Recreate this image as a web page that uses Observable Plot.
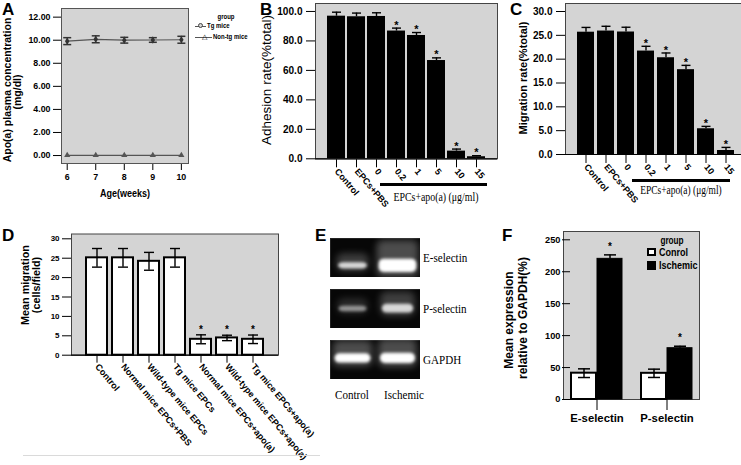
<!DOCTYPE html>
<html><head><meta charset="utf-8">
<script src="https://cdn.jsdelivr.net/npm/d3@7"></script>
<script src="https://cdn.jsdelivr.net/npm/@observablehq/plot@0.6"></script>
<style>
html,body{margin:0;padding:0;background:#fff;}
#fig{position:relative;width:741px;height:465px;overflow:hidden;background:#fff;}
.lbl{position:absolute;white-space:nowrap;line-height:1;color:#000;}
.box{position:absolute;box-sizing:border-box;}
</style></head><body><div id="fig"></div>
<script>
// ---------------- DATA ----------------
// Panel A
const ageWeeks = [6, 7, 8, 9, 10];
const tgMean = [9.92, 10.08, 10.0, 10.02, 10.04];
const tgErr = [0.3, 0.3, 0.25, 0.2, 0.3];
const nonTgMean = [0.02, 0.02, 0.02, 0.02, 0.02];
const nonTgErr = [0.05, 0.05, 0.05, 0.05, 0.05];
const aTicks = [0, 2, 4, 6, 8, 10, 12];
// Panels B and C
const treatments = ["Control", "EPCs+PBS", "0", "0.2", "1", "5", "10", "15"];
const adhesionRate = [96.8, 96.4, 96.6, 86.7, 83.7, 66.7, 5.2, 1.4];
const adhesionSem = [2.7, 2.5, 2.5, 2.0, 2.0, 1.8, 1.4, 0.7];
const migrationRate = [25.66, 25.9, 25.7, 21.7, 20.3, 17.8, 5.4, 0.84];
const migrationSem = [1.0, 1.0, 1.0, 1.0, 1.0, 0.9, 0.5, 0.65];
const bcSignificant = [false, false, false, true, true, true, true, true];
const bTicks = [0, 20, 40, 60, 80, 100];
const cTicks = [0, 5, 10, 15, 20, 25, 30];
// Panel D
const epcGroups = ["Control", "Normal mice EPCs+PBS", "Wild-type mice EPCs", "Tg mice EPCs",
  "Normal mice EPCs+apo(a)", "Wild-type mice EPCs+apo(a)", "Tg mice EPCs+apo(a)"];
const meanMigration = [25.1, 25.1, 24.2, 25.1, 4.1, 4.45, 4.1];
const meanMigrationErr = [2.4, 2.4, 2.3, 2.4, 1.15, 0.7, 1.1];
const dSignificant = [false, false, false, false, true, true, true];
const dTicks = [0, 5, 10, 15, 20, 25, 30];
// Panel E (gel bands: intensity, position from lane bottom, thickness, width)
const gelGenes = ["E-selectin", "P-selectin", "GAPDH"];
const gelLanes = ["Control", "Ischemic"];
const bandIntensity = [[0.8, 1.0], [0.5, 0.8], [1.0, 1.0]];
const bandPosition = [[0.3, 0.3], [0.5, 0.51], [0.54, 0.54]];
const bandThickness = [[0.16, 0.34], [0.14, 0.22], [0.24, 0.26]];
const bandWidth = [[0.64, 0.84], [0.62, 0.7], [0.8, 0.78]];
// Panel F
const selectins = ["E-selectin", "P-selectin"];
const fGroups = ["Control", "Ischemic"];
const fLegendLabels = ["Conrol", "Ischemic"];
const controlExpr = [41.2, 41.0];
const controlErr = [6.8, 6.5];
const ischemicExpr = [220.2, 80.3];
const ischemicErr = [6.2, 3.1];
const fTicks = [0, 50, 100, 150, 200, 250];

// ---------------- HELPERS ----------------
const hasFont = (name) => {
  const c = document.createElement("canvas").getContext("2d");
  const s = "abcdefghijklmnopqrstuvwxyz0123456789ABCDEFGHIJ";
  c.font = "40px monospace"; const a = c.measureText(s).width;
  c.font = `40px "${name}", monospace`; const b = c.measureText(s).width;
  return Math.abs(a - b) > 0.5;
};
const NARROW_OK = hasFont("Liberation Sans Narrow");
const SANS = '"Liberation Sans", Arial, Helvetica, sans-serif';
const NARROW = NARROW_OK ? '"Liberation Sans Narrow", ' + SANS : SANS;
const NK = NARROW_OK ? 1 : 0.84;
const SERIF = '"Liberation Serif", "Times New Roman", serif';
const GRAY = "#d4d4d4";
const fig = document.getElementById("fig");

function txt(s, x, y, o = {}) {
  const d = document.createElement("div");
  d.className = "lbl";
  d.textContent = s;
  const fam = o.family || "narrow";
  let sx = o.sx || 1;
  let family = fam === "narrow" ? NARROW : fam === "serif" ? SERIF : SANS;
  if (fam === "narrow" && !NARROW_OK) sx *= 0.82;
  const anchor = o.anchor || "middle";
  d.style.left = x + "px"; d.style.top = y + "px";
  d.style.fontFamily = family;
  d.style.fontSize = (o.size || 10) + "px";
  d.style.fontWeight = o.weight || "bold";
  const tx = anchor === "start" ? "0" : anchor === "end" ? "-100%" : "-50%";
  d.style.transformOrigin = anchor === "start" ? "0 50%" : anchor === "end" ? "100% 50%" : "50% 50%";
  let t = `translate(${tx},-50%)`;
  if (o.rotate) t += ` rotate(${o.rotate}deg)`;
  if (sx !== 1) t += ` scaleX(${sx})`;
  d.style.transform = t;
  fig.appendChild(d);
  return d;
}
function box(x, y, w, h, css) {
  const d = document.createElement("div");
  d.className = "box";
  Object.assign(d.style, {left: x + "px", top: y + "px", width: w + "px", height: h + "px"}, css);
  fig.appendChild(d);
}
function place(svg, x, y) {
  svg.style.position = "absolute";
  svg.style.left = x + "px"; svg.style.top = y + "px";
  fig.appendChild(svg);
  return svg;
}
function svgStyle(size) {
  return {background: "transparent", overflow: "visible", fontFamily: NARROW,
    fontSize: (size * NK) + "px", fontWeight: "bold", color: "#000"};
}
function styleText(svg, prefix, css) {
  svg.querySelectorAll(`[aria-label^="${prefix}"] text`).forEach(t => Object.assign(t.style, css));
}
const cap = {draw(ctx, size) { const r = Math.sqrt(size / Math.PI); ctx.moveTo(-r, 0); ctx.lineTo(r, 0); }};
const rotLabelCss = {fontFamily: SANS, fontSize: "9px", fontWeight: "bold"};

// ---------------- PANEL A ----------------
const A = [];
ageWeeks.forEach((a, i) => {
  A.push({age: a, group: "Tg mice", mean: tgMean[i], err: tgErr[i]});
  A.push({age: a, group: "Non-tg mice", mean: nonTgMean[i], err: nonTgErr[i]});
});
const Atg = A.filter(d => d.group === "Tg mice");
const Anon = A.filter(d => d.group === "Non-tg mice");
place(Plot.plot({
  width: 250, height: 225, marginLeft: 61, marginRight: 62, marginTop: 8, marginBottom: 62,
  style: svgStyle(10.5),
  x: {domain: [5.8, 10.25], ticks: ageWeeks, tickFormat: d => String(d), tickSize: 7, tickPadding: 3, label: null},
  y: {domain: [-0.69, 12.75], ticks: aTicks, tickFormat: d3.format(".2f"), tickSize: 8, tickPadding: 3, label: null},
  marks: [
    Plot.frame({fill: GRAY, stroke: "#555"}),
    Plot.line(A, {x: "age", y: "mean", z: "group", stroke: "#555", strokeWidth: 1.2}),
    Plot.ruleX(Atg, {x: "age", y1: d => d.mean - d.err, y2: d => d.mean + d.err, stroke: "#333"}),
    Plot.dot(Atg, {x: "age", y: d => d.mean + d.err, symbol: cap, r: 4, stroke: "#333", fill: "none"}),
    Plot.dot(Atg, {x: "age", y: d => d.mean - d.err, symbol: cap, r: 4, stroke: "#333", fill: "none"}),
    Plot.dot(Atg, {x: "age", y: "mean", symbol: "diamond", r: 2.3, fill: "#333", stroke: "none"}),
    Plot.dot(Anon, {x: "age", y: "mean", symbol: "triangle", r: 2.3, fill: "#555", stroke: "none"})
  ]
}), 0, 0);
txt("A", 2, 8.5, {size: 17, anchor: "start", family: "sans"});
txt("Apo(a) plasma concentration", 6.5, 90, {size: 10.5, rotate: -90, family: "sans"});
txt("(mg/dl)", 16.5, 92, {size: 10.5, rotate: -90, family: "sans"});
txt("Age(weeks)", 125, 193, {size: 11});
// legend A
txt("group", 225.5, 17.3, {size: 7.3});
box(195, 25.5, 11, 1, {background: "#555"});
box(197.5, 23, 5, 5, {border: "1px solid #444", borderRadius: "50%", background: GRAY});
txt("Tg mice", 207, 25.5, {size: 7.3, anchor: "start"});
box(195, 37, 17, 1, {background: "#555"});
txt("\u25B3", 204.5, 36.2, {size: 7, family: "sans", weight: "normal"});
txt("Non-tg mice", 213, 37, {size: 7.3, anchor: "start"});

// ---------------- PANELS B & C ----------------
function barPanel(values, errs, cfg) {
  const data = treatments.map((t, i) => ({cat: t, value: values[i], err: errs[i], sig: bcSignificant[i]}));
  const svg = Plot.plot({
    width: cfg.width, height: 215, marginLeft: 85, marginRight: cfg.marginRight, marginTop: 3, marginBottom: cfg.marginBottom,
    style: svgStyle(12),
    x: {domain: treatments, paddingInner: cfg.pi, paddingOuter: cfg.po, tickRotate: 50, tickSize: 9, tickPadding: 2, label: null},
    y: {domain: cfg.yDomain, ticks: cfg.ticks, tickFormat: d3.format(".1f"), tickSize: 9, tickPadding: 4, label: null},
    marks: [
      Plot.frame({fill: GRAY, stroke: "#444"}),
      Plot.barY(data, {x: "cat", y: "value", fill: "#000"}),
      Plot.ruleX(data, {x: "cat", y1: "value", y2: d => d.value + d.err, stroke: "#000", strokeWidth: 1.4}),
      Plot.dot(data, {x: "cat", y: d => d.value + d.err, symbol: cap, r: 4.5, stroke: "#000", strokeWidth: 1.4, fill: "none"}),
      Plot.text(data, {filter: d => d.sig, x: "cat", y: d => d.value + d.err, text: () => "*", dy: -3,
        fontSize: 11, fontFamily: SANS, fontWeight: "bold"}),
      Plot.ruleY([0], {stroke: "#000", strokeWidth: 1.2})
    ]
  });
  styleText(svg, "x-axis", rotLabelCss);
  return svg;
}
place(barPanel(adhesionRate, adhesionSem, {width: 275, marginRight: 8, marginBottom: 56.7, pi: 0.12, po: 0.475,
  yDomain: [0, 105.4], ticks: bTicks}), 230, 0);
txt("B", 260, 9, {size: 17, anchor: "start", family: "sans"});
txt("Adhesion rate(%total)", 267, 80, {size: 13.5, rotate: -90, family: "sans", weight: "normal"});
box(380, 183, 107, 2.5, {background: "#000"});
txt("EPCs+apo(a) (\u03BCg/ml)", 436, 197, {size: 12, family: "serif", weight: "normal", sx: 0.82});

place(barPanel(migrationRate, migrationSem, {width: 270, marginRight: 4, marginBottom: 61, pi: 0.17, po: 0.52,
  yDomain: [0, 31.68], ticks: cTicks}), 480, 0);
txt("C", 510, 8.5, {size: 17, anchor: "start", family: "sans"});
txt("Migration rate(%total)", 523, 77.5, {size: 11, rotate: -90, family: "sans"});
box(632, 179, 98, 2.5, {background: "#000"});
txt("EPCs+apo(a) (\u03BCg/ml)", 681, 191, {size: 11.5, family: "serif", weight: "normal", sx: 0.82});

// ---------------- PANEL D ----------------
const D = epcGroups.map((g, i) => ({cat: g, value: meanMigration[i], err: meanMigrationErr[i], sig: dSignificant[i]}));
const svgD = Plot.plot({
  width: 320, height: 240, marginLeft: 71, marginRight: 42, marginTop: 8.5, marginBottom: 110.3,
  style: svgStyle(9.5),
  x: {domain: epcGroups, paddingInner: 0.21, paddingOuter: 0.48, tickRotate: 50, tickSize: 8, tickPadding: 2, label: null},
  y: {domain: [0, 31.24], ticks: dTicks, tickSize: 9, tickPadding: 3, label: null},
  marks: [
    Plot.frame({fill: GRAY, stroke: "#444"}),
    Plot.barY(D, {x: "cat", y: "value", fill: "#fff", stroke: "#000", strokeWidth: 2}),
    Plot.ruleX(D, {x: "cat", y1: d => d.value - d.err, y2: d => d.value + d.err, stroke: "#000", strokeWidth: 1.4}),
    Plot.dot(D, {x: "cat", y: d => d.value + d.err, symbol: cap, r: 5, stroke: "#000", strokeWidth: 1.4, fill: "none"}),
    Plot.dot(D, {x: "cat", y: d => d.value - d.err, symbol: cap, r: 5, stroke: "#000", strokeWidth: 1.4, fill: "none"}),
    Plot.text(D, {filter: d => d.sig, x: "cat", y: d => d.value + d.err, text: () => "*", dy: -5,
      fontSize: 10, fontFamily: SANS, fontWeight: "bold"}),
    Plot.ruleY([0], {stroke: "#000", strokeWidth: 1.2})
  ]
});
styleText(svgD, "x-axis", rotLabelCss);
place(svgD, 0, 225);
txt("D", 2, 235, {size: 17, anchor: "start", family: "sans"});
txt("Mean migration", 25, 285, {size: 10.8, rotate: -90, family: "sans"});
txt("(cells/field)", 35.5, 285, {size: 10.8, rotate: -90, family: "sans"});
box(23, 455, 297, 1, {background: "#dadada"});

// ---------------- PANEL E ----------------
const gelTops = [238, 289, 340];
gelGenes.forEach((gene, gi) => {
  const bands = gelLanes.map((lane, li) => ({lane: li, intensity: bandIntensity[gi][li],
    pos: bandPosition[gi][li], thick: bandThickness[gi][li], w: bandWidth[gi][li]}));
  const svg = Plot.plot({
    width: 90, height: 39, margin: 0,
    style: {background: "transparent", overflow: "hidden"},
    x: {domain: [0, 2], axis: null},
    y: {domain: [0, 1], axis: null},
    marks: [
      Plot.frame({fill: "#070707", stroke: "#222"}),
      Plot.rect(bands, {x1: d => d.lane + 0.5 - d.w * 0.55, x2: d => d.lane + 0.5 + d.w * 0.55,
        y1: d => d.pos - d.thick * 0.9, y2: d => d.pos + d.thick * 1.9, fill: "#fff",
        fillOpacity: d => 0.28 * d.intensity, rx: 6}),
      Plot.rect(bands, {x1: d => d.lane + 0.5 - d.w / 2, x2: d => d.lane + 0.5 + d.w / 2,
        y1: d => d.pos - d.thick / 2, y2: d => d.pos + d.thick / 2, fill: "#fff",
        fillOpacity: d => d.intensity, rx: 5})
    ]
  });
  const gs = svg.querySelectorAll('g[aria-label="rect"]');
  if (gs[0]) gs[0].style.filter = "blur(3.5px)";
  if (gs[1]) gs[1].style.filter = "blur(1.4px)";
  place(svg, 330, gelTops[gi]);
  txt(gene, 423, gelTops[gi] + 19.5, {size: 13.5, family: "serif", weight: "normal", sx: 0.82, anchor: "start"});
});
txt("E", 315, 235, {size: 17, anchor: "start", family: "sans"});
txt(gelLanes[0], 352, 395, {size: 13.5, family: "serif", weight: "normal", sx: 0.82});
txt(gelLanes[1], 404, 395, {size: 13.5, family: "serif", weight: "normal", sx: 0.82});

// ---------------- PANEL F ----------------
const F = selectins.flatMap((g, i) => [
  {gene: g, group: fGroups[0], mean: controlExpr[i], err: controlErr[i], sig: false},
  {gene: g, group: fGroups[1], mean: ischemicExpr[i], err: ischemicErr[i], sig: true}
]);
box(563, 231, 137, 168.5, {background: GRAY, border: "1px solid #444"});
const svgF = Plot.plot({
  width: 241, height: 240, marginLeft: 63, marginRight: 41, marginTop: 6, marginBottom: 66,
  style: svgStyle(11),
  facet: {data: F, x: "gene"},
  fx: {domain: selectins, paddingInner: 0.243, paddingOuter: 0.1, axis: "bottom", tickSize: 11, tickPadding: 3, label: null},
  x: {domain: fGroups, paddingInner: 0.02, paddingOuter: 0, axis: null},
  y: {domain: [0, 263], ticks: fTicks, tickSize: 8, tickPadding: 2, label: null},
  marks: [
    Plot.barY(F, {filter: d => d.group === fGroups[0], x: "group", y: "mean", fill: "#fff", stroke: "#000", strokeWidth: 2}),
    Plot.barY(F, {filter: d => d.group === fGroups[1], x: "group", y: "mean", fill: "#000", stroke: "#000", strokeWidth: 1}),
    Plot.ruleX(F, {x: "group", y1: d => d.sig ? d.mean : d.mean - d.err, y2: d => d.mean + d.err, stroke: "#000", strokeWidth: 1.5}),
    Plot.dot(F, {x: "group", y: d => d.mean + d.err, symbol: cap, r: 6, stroke: "#000", strokeWidth: 1.5, fill: "none"}),
    Plot.dot(F, {filter: d => !d.sig, x: "group", y: d => d.mean - d.err, symbol: cap, r: 6, stroke: "#000", strokeWidth: 1.5, fill: "none"}),
    Plot.text(F, {filter: d => d.sig, x: "group", y: d => d.mean + d.err, text: () => "*", dy: -8,
      fontSize: 10, fontFamily: SANS, fontWeight: "bold"})
  ]
});
styleText(svgF, "fx-axis", {fontSize: (13.5 * NK) + "px"});
place(svgF, 500, 225);
txt("F", 502, 235, {size: 17, anchor: "start", family: "sans"});
txt("Mean expression", 509, 320, {size: 12, rotate: -90, family: "sans"});
txt("relative to GAPDH(%)", 522.5, 318, {size: 12, rotate: -90, family: "sans"});
txt("group", 671.5, 241, {size: 10});
box(647, 247.5, 9, 8.5, {background: "#fff", border: "2px solid #000"});
txt(fLegendLabels[0], 658.5, 251.5, {size: 11, anchor: "start"});
box(647, 261, 9, 8.5, {background: "#000"});
txt(fLegendLabels[1], 658.5, 265, {size: 11, anchor: "start"});
</script></body></html>
